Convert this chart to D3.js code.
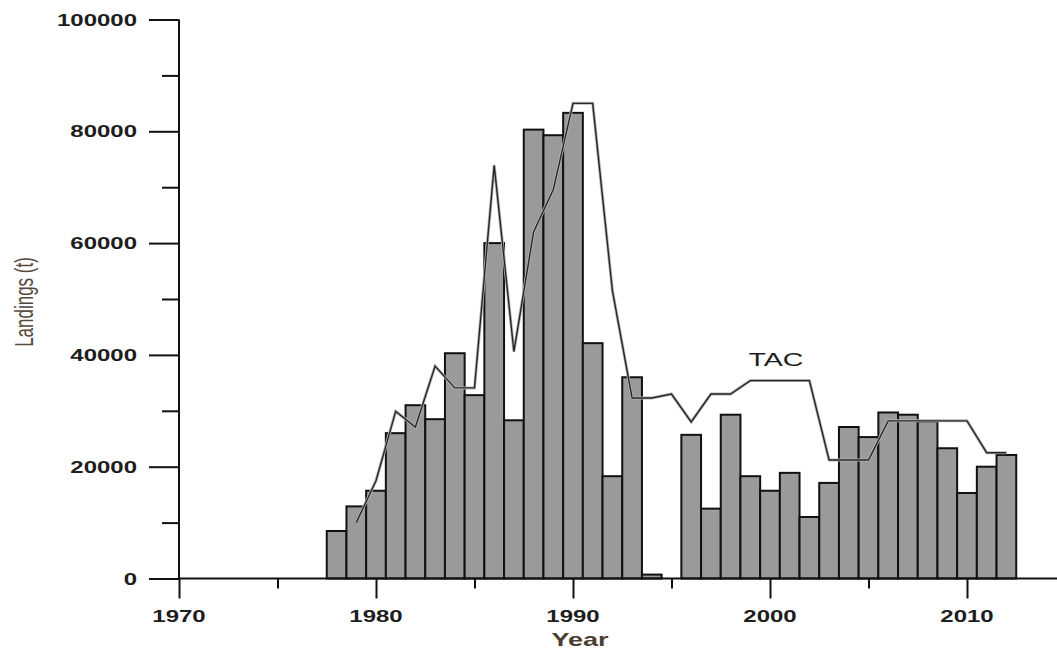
<!DOCTYPE html>
<html>
<head>
<meta charset="utf-8">
<script src="https://cdn.jsdelivr.net/npm/d3@7"></script>
<style>
  body { margin: 0; background: #fff; }
  text { font-family: "Liberation Sans", Arial, sans-serif; }
</style>
</head>
<body>
<script>
//landings per year (bars), 1995 has no bar
const years = d3.range(1978, 2013)
const landings = [8500, 12900, 15700, 26000, 31000, 28500, 40300, 32800, 60000, 28300,
  80300, 79300, 83300, 42100, 18300, 36000, 700, null, 25700, 12500,
  29300, 18300, 15700, 18900, 11000, 17100, 27100, 25300, 29700, 29300,
  28100, 23300, 15300, 20000, 22100]

//TAC line values
const tacYears = d3.range(1979, 2013)
const tac = [10000, 17500, 29900, 27100, 38000, 34100, 34100, 73900, 40600, 62000,
  69600, 85000, 85000, 51500, 32300, 32300, 33000, 28000, 33000, 33000,
  35400, 35400, 35400, 35400, 21200, 21200, 21200, 28200, 28200, 28200,
  28200, 28200, 22500, 22500]

//tick labels
const xTicks = [1970, 1980, 1990, 2000, 2010]
const xMinor = [1975, 1985, 1995, 2005]
const yTicks = [0, 20000, 40000, 60000, 80000, 100000]
const yMinor = [10000, 30000, 50000, 70000, 90000]

const width = 1057
const height = 652
//the picture is stretched sideways, text too
const stretch = 1.5

const svg = d3.select('body')
  .append('svg')
  .attr('width', width)
  .attr('height', height)

const xScale = d3.scaleLinear()
  .domain([1970, 2015])
  .range([179, 179 + 45 * 19.7])

const yScale = d3.scaleLinear()
  .domain([0, 100000])
  .range([578.5, 19.5])

//bars
svg.selectAll('rect.bar')
  .data(years.map((y, i) => ({ year: y, value: landings[i] })).filter(d => d.value != null))
  .enter()
  .append('rect')
    .attr('class', 'bar')
    .attr('x', d => xScale(d.year - 0.5))
    .attr('y', d => yScale(d.value))
    .attr('width', d => xScale(d.year + 0.5) - xScale(d.year - 0.5))
    .attr('height', d => yScale(0) - yScale(d.value))
    .attr('fill', '#9a9a9a')
    .attr('stroke', '#111')
    .attr('stroke-width', 2)

//TAC line, a soft grey halo under a dark line
const line = d3.line()
  .x((d, i) => xScale(tacYears[i]))
  .y(d => yScale(d))

svg.append('path')
  .datum(tac)
  .attr('d', line)
  .attr('fill', 'none')
  .attr('stroke', '#b4b4b4')
  .attr('stroke-width', 3)

svg.append('path')
  .datum(tac)
  .attr('d', line)
  .attr('fill', 'none')
  .attr('stroke', '#262626')
  .attr('stroke-width', 1.4)

//y axis
svg.append('g')
  .attr('transform', `translate(${xScale(1970)},0)`)
  .call(d3.axisLeft(yScale).tickValues(yTicks).tickSize(30).tickFormat(''))
  .call(g => g.select('.domain').remove())
  .call(g => g.selectAll('line').attr('stroke', '#111').attr('stroke-width', 2))

svg.append('g')
  .attr('transform', `translate(${xScale(1970)},0)`)
  .call(d3.axisLeft(yScale).tickValues(yMinor).tickSize(17).tickFormat(''))
  .call(g => g.select('.domain').remove())
  .call(g => g.selectAll('line').attr('stroke', '#111').attr('stroke-width', 2))

svg.append('line')
  .attr('x1', xScale(1970)).attr('x2', xScale(1970))
  .attr('y1', yScale(100000)).attr('y2', yScale(0))
  .attr('stroke', '#111').attr('stroke-width', 2)

//x axis
svg.append('line')
  .attr('x1', xScale(1970)).attr('x2', width)
  .attr('y1', yScale(0)).attr('y2', yScale(0))
  .attr('stroke', '#111').attr('stroke-width', 2)

svg.append('g')
  .attr('transform', `translate(0,${yScale(0)})`)
  .call(d3.axisBottom(xScale).tickValues(xTicks).tickSize(20).tickFormat(''))
  .call(g => g.select('.domain').remove())
  .call(g => g.selectAll('line').attr('stroke', '#111').attr('stroke-width', 2))

svg.append('g')
  .attr('transform', `translate(0,${yScale(0)})`)
  .call(d3.axisBottom(xScale).tickValues(xMinor).tickSize(10).tickFormat(''))
  .call(g => g.select('.domain').remove())
  .call(g => g.selectAll('line').attr('stroke', '#111').attr('stroke-width', 2))

//tick labels, drawn by hand to stretch them
svg.selectAll('text.ylab')
  .data(yTicks)
  .enter()
  .append('text')
    .attr('class', 'ylab')
    .attr('transform', d => `translate(137,${yScale(d) + 6}) scale(${stretch},1)`)
    .attr('text-anchor', 'end')
    .attr('font-size', 16)
    .attr('font-weight', 'bold')
    .attr('fill', '#1e1e1e')
    .text(d => d)

svg.selectAll('text.xlab')
  .data(xTicks)
  .enter()
  .append('text')
    .attr('class', 'xlab')
    .attr('transform', d => `translate(${xScale(d)},622) scale(${stretch},1)`)
    .attr('text-anchor', 'middle')
    .attr('font-size', 16)
    .attr('font-weight', 'bold')
    .attr('fill', '#1e1e1e')
    .text(d => d)

//axis titles
svg.append('text')
  .attr('transform', `translate(580,646) scale(${stretch},1)`)
  .attr('text-anchor', 'middle')
  .attr('font-size', 18)
  .attr('font-weight', 'bold')
  .attr('fill', '#4a3e32')
  .text('Year')

svg.append('text')
  .attr('transform', `translate(33,302) scale(${stretch},1) rotate(-90)`)
  .attr('text-anchor', 'middle')
  .attr('font-size', 17)
  .attr('fill', '#55493e')
  .text('Landings (t)')

//TAC label
svg.append('text')
  .attr('transform', `translate(776,366) scale(${stretch},1)`)
  .attr('text-anchor', 'middle')
  .attr('font-size', 19)
  .attr('fill', '#1e1e1e')
  .text('TAC')
</script>
</body>
</html>
